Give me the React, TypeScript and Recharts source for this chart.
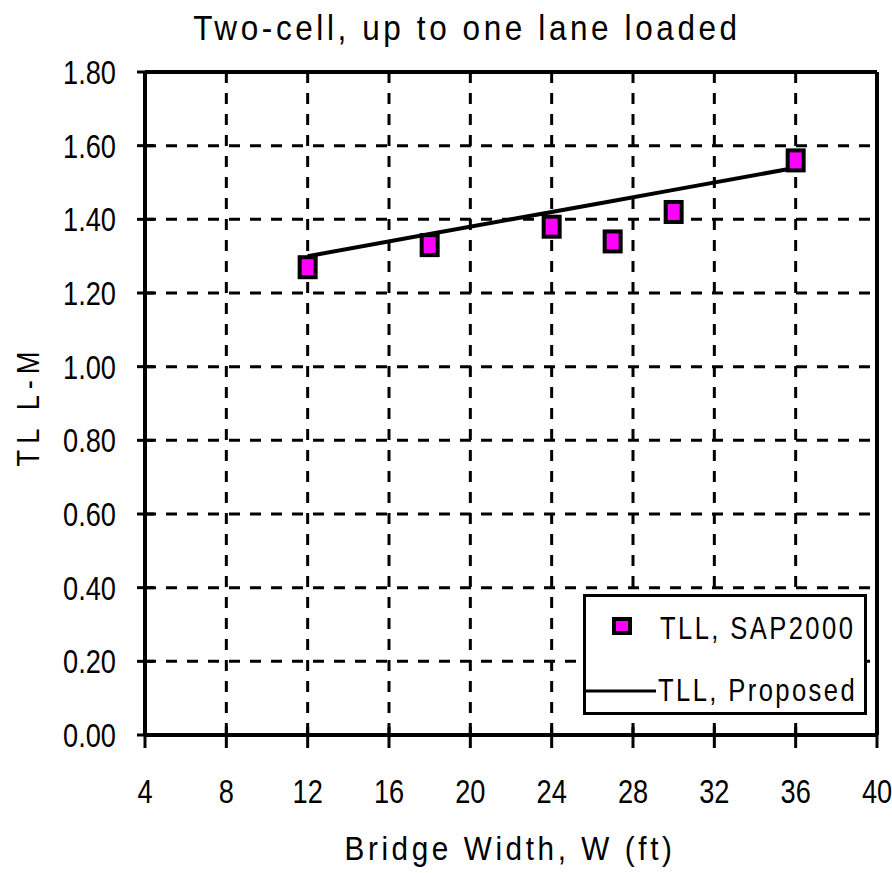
import React from "react";
import {
  ComposedChart,
  Line,
  Scatter,
  XAxis,
  YAxis,
  CartesianGrid,
  ReferenceLine,
  Label,
} from "recharts";

// bridge widths (ft) and the two TLL series
const widths = [12, 18, 24, 27, 30, 36];
const sap2000 = [1.27, 1.33, 1.38, 1.34, 1.42, 1.56];
const proposed = [1.3, 1.36, 1.42, 1.45, 1.48, 1.54];

const xTicks = [4, 8, 12, 16, 20, 24, 28, 32, 36, 40];
const yTicks = [0, 0.2, 0.4, 0.6, 0.8, 1.0, 1.2, 1.4, 1.6, 1.8];

const title = "Two-cell, up to one lane loaded";
const xTitle = "Bridge Width, W (ft)";
const yTitle = "TL L-M";
const sapName = "TLL, SAP2000";
const proposedName = "TLL, Proposed";

const data = widths.map((w, i) => ({ w, sap: sap2000[i], proposed: proposed[i] }));

const FONT = "'Liberation Sans', Arial, sans-serif";
const MAGENTA = "#ff00ff";

// tall, narrow text: squeeze horizontally around the anchor point
function NarrowText({ x, y, anchor = "middle", size, sx = 0.8, spacing = 0, rotate = 0, children }: any) {
  return (
    <text
      transform={`translate(${x},${y}) rotate(${rotate}) scale(${sx},1)`}
      x={0}
      y={0}
      textAnchor={anchor}
      fontFamily={FONT}
      fontSize={size}
      letterSpacing={spacing}
      fill="#000"
    >
      {children}
    </text>
  );
}

function YTick({ x, y, payload }: any) {
  return (
    <g>
      <line x1={x - 8} x2={x + 9} y1={y} y2={y} stroke="#000" strokeWidth={3} />
      <NarrowText x={x - 29} y={y + 12} anchor="end" size={34} sx={0.8}>
        {Number(payload.value).toFixed(2)}
      </NarrowText>
    </g>
  );
}

function XTick({ x, y, payload }: any) {
  return (
    <g>
      <line x1={x} x2={x} y1={y - 8} y2={y + 13} stroke="#000" strokeWidth={3} />
      <NarrowText x={x} y={y + 68} size={34} sx={0.8}>
        {payload.value}
      </NarrowText>
    </g>
  );
}

function SapMarker({ cx, cy }: any) {
  return <rect x={cx - 8} y={cy - 10} width={16} height={20} fill={MAGENTA} stroke="#000" strokeWidth={4} />;
}

function LegendBox() {
  return (
    <div
      style={{
        position: "absolute",
        left: 583,
        top: 594,
        width: 284,
        height: 121,
        boxSizing: "border-box",
        border: "3px solid #000",
        background: "#fff",
      }}
    >
      <svg width={278} height={115} style={{ position: "absolute", left: 0, top: 0 }}>
        <rect x={28} y={22} width={16} height={14} fill={MAGENTA} stroke="#000" strokeWidth={4} />
        <NarrowText x={74} y={42} anchor="start" size={32} sx={0.8} spacing={3}>
          {sapName}
        </NarrowText>
        <line x1={0} x2={70} y1={94} y2={94} stroke="#000" strokeWidth={3} />
        <NarrowText x={72} y={104} anchor="start" size={32} sx={0.8} spacing={3}>
          {proposedName}
        </NarrowText>
      </svg>
    </div>
  );
}

export default function App() {
  return (
    <div style={{ position: "absolute", left: 0, top: 0, width: 892, height: 873, background: "#fff" }}>
      <ComposedChart
        width={892}
        height={873}
        data={data}
        margin={{ top: 72, right: 15, left: 0, bottom: 0 }}
      >
        <CartesianGrid stroke="#000" strokeWidth={3} strokeDasharray="11 10" />
        <XAxis
          dataKey="w"
          type="number"
          domain={[4, 40]}
          ticks={xTicks}
          height={138}
          tickSize={0}
          tickMargin={0}
          tickLine={false}
          axisLine={{ stroke: "#000", strokeWidth: 4 }}
          tick={<XTick />}
          interval={0}
        >
          <Label
            content={() => (
              <NarrowText x={510} y={860} size={33} sx={0.9} spacing={4}>
                {xTitle}
              </NarrowText>
            )}
          />
        </XAxis>
        <YAxis
          type="number"
          domain={[0, 1.8]}
          ticks={yTicks}
          width={145}
          tickSize={0}
          tickMargin={0}
          tickLine={false}
          axisLine={{ stroke: "#000", strokeWidth: 4 }}
          tick={<YTick />}
          interval={0}
        >
          <Label
            content={() => (
              <NarrowText x={39} y={406} rotate={-90} size={32} sx={0.85} spacing={7}>
                {yTitle}
              </NarrowText>
            )}
          />
        </YAxis>
        <ReferenceLine y={1.8} stroke="#000" strokeWidth={4} />
        <ReferenceLine x={40} stroke="#000" strokeWidth={4} />
        <Line
          type="linear"
          dataKey="proposed"
          name={proposedName}
          stroke="#000"
          strokeWidth={4}
          dot={false}
          activeDot={false}
          isAnimationActive={false}
        />
        <Scatter dataKey="sap" name={sapName} shape={<SapMarker />} isAnimationActive={false} />
      </ComposedChart>
      <svg width={892} height={60} style={{ position: "absolute", left: 0, top: 0 }}>
        <NarrowText x={467} y={40} size={35} sx={0.9} spacing={4}>
          {title}
        </NarrowText>
      </svg>
      <LegendBox />
    </div>
  );
}
